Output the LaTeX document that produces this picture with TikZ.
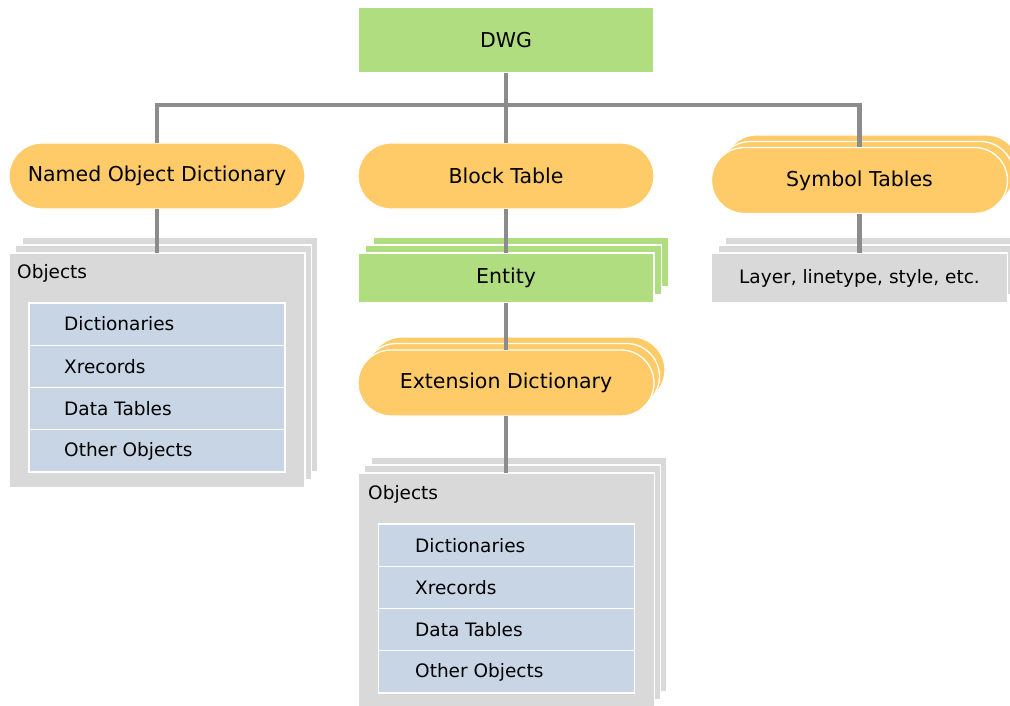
\documentclass[tikz,border=0pt]{standalone}
\usepackage{fontspec}
\setmainfont{DejaVu Sans}
\newcommand{\bigtext}{\fontsize{20.5}{24}\selectfont}
\newcommand{\smalltext}{\fontsize{18.5}{22}\selectfont}
\definecolor{dwggreen}{HTML}{B1DD81}
\definecolor{dictorange}{HTML}{FFCB69}
\definecolor{boxgray}{HTML}{D9D9D9}
\definecolor{rowblue}{HTML}{C8D5E5}
\definecolor{linkgray}{HTML}{8C8C8C}
\tikzset{
  base/.style={draw=white, line width=1.3pt, outer sep=0pt, inner sep=0pt, text=black},
  greenbox/.style={base, fill=dwggreen, minimum width=296pt, minimum height=66pt, font=\bigtext},
  entitybox/.style={base, fill=dwggreen, minimum width=296pt, minimum height=50pt, font=\bigtext},
  pill/.style={base, fill=dictorange, rounded corners=33pt, minimum width=296pt, minimum height=66pt, font=\bigtext},
  graybox/.style={base, fill=boxgray, minimum width=296pt, minimum height=50pt, font=\smalltext},
  objbox/.style={base, fill=boxgray, minimum width=296pt, minimum height=235pt},
  rowbox/.style={base, fill=rowblue, minimum width=256pt, minimum height=42.25pt},
  rowtext/.style={anchor=west, inner sep=0pt, font=\smalltext},
  caption/.style={anchor=west, inner sep=0pt, font=\smalltext},
  conn/.style={draw=linkgray, line width=4.5pt},
}
\begin{document}
\begin{tikzpicture}[x=1pt, y=-1pt]
\useasboundingbox (0,0) rectangle (1010,706);
\clip (0,0) rectangle (1010,706);
\fill[white] (0,0) rectangle (1010,706);

% ---- stacked copies behind the front boxes ----
% Named Object Dictionary objects
\node[objbox] (objLb2) at (170,354.5) {};
\node[objbox] (objLb1) at (163.5,362.5) {};
% Entity
\node[entitybox] (entb2) at (521,262) {};
\node[entitybox] (entb1) at (513.5,270) {};
% Extension Dictionary
\node[pill] (extb2) at (517,370) {};
\node[pill] (extb1) at (511.5,376.5) {};
% Symbol Tables
\node[pill] (symb2) at (871.5,168) {};
\node[pill] (symb1) at (865.5,174.5) {};
% Layer box
\node[graybox] (layb2) at (873.5,262) {};
\node[graybox] (layb1) at (866.5,270) {};
% Objects under Extension Dictionary
\node[objbox] (objMb2) at (519,574.5) {};
\node[objbox] (objMb1) at (512.5,582.5) {};

% ---- front boxes ----
\node[greenbox] (dwg) at (506,40) {DWG};
\node[pill] (nod) at (157,176) {Named Object Dictionary};
\node[pill] (blk) at (506,176) {Block Table};
\node[pill] (sym) at (859.5,180.5) {Symbol Tables};
\node[graybox] (lay) at (859.5,278) {Layer, linetype, style, etc.};
\node[entitybox] (ent) at (506,278) {Entity};
\node[pill] (ext) at (506,383) {Extension Dictionary};

% Objects box on the left
\node[objbox] (objL) at (157,370.5) {};
\node[caption] (objLt) at (17,273) {Objects};
\node[rowbox] (l1) at (157,324.1) {};
\node[rowbox] (l2) at (157,366.4) {};
\node[rowbox] (l3) at (157,408.6) {};
\node[rowbox] (l4) at (157,450.9) {};
\node[rowtext] at (64,324.1) {Dictionaries};
\node[rowtext] at (64,366.4) {Xrecords};
\node[rowtext] at (64,408.6) {Data Tables};
\node[rowtext] at (64,450.9) {Other Objects};

% Objects box under the Extension Dictionary
\node[objbox] (objM) at (506.5,590.5) {};
\node[caption] (objMt) at (368,494) {Objects};
\node[rowbox] (m1) at (506.5,545.1) {};
\node[rowbox] (m2) at (506.5,587.4) {};
\node[rowbox] (m3) at (506.5,629.6) {};
\node[rowbox] (m4) at (506.5,671.9) {};
\node[rowtext] at (415,545.1) {Dictionaries};
\node[rowtext] at (415,587.4) {Xrecords};
\node[rowtext] at (415,629.6) {Data Tables};
\node[rowtext] at (415,671.9) {Other Objects};

% ---- connectors ----
\coordinate (bus) at (506,105);
\draw[conn] (dwg.south) -- (blk.north);
\draw[conn] (nod.north) |- (bus) -| (sym.north);
\draw[conn] (nod.south) -- (nod.south |- objL.north);
\draw[conn] (blk.south) -- (ent.north);
\draw[conn] (ent.south) -- (ext.north);
\draw[conn] (ext.south) -- (ext.south |- objM.north);
\draw[conn] (sym.south) -- (lay.north);
\end{tikzpicture}
\end{document}
